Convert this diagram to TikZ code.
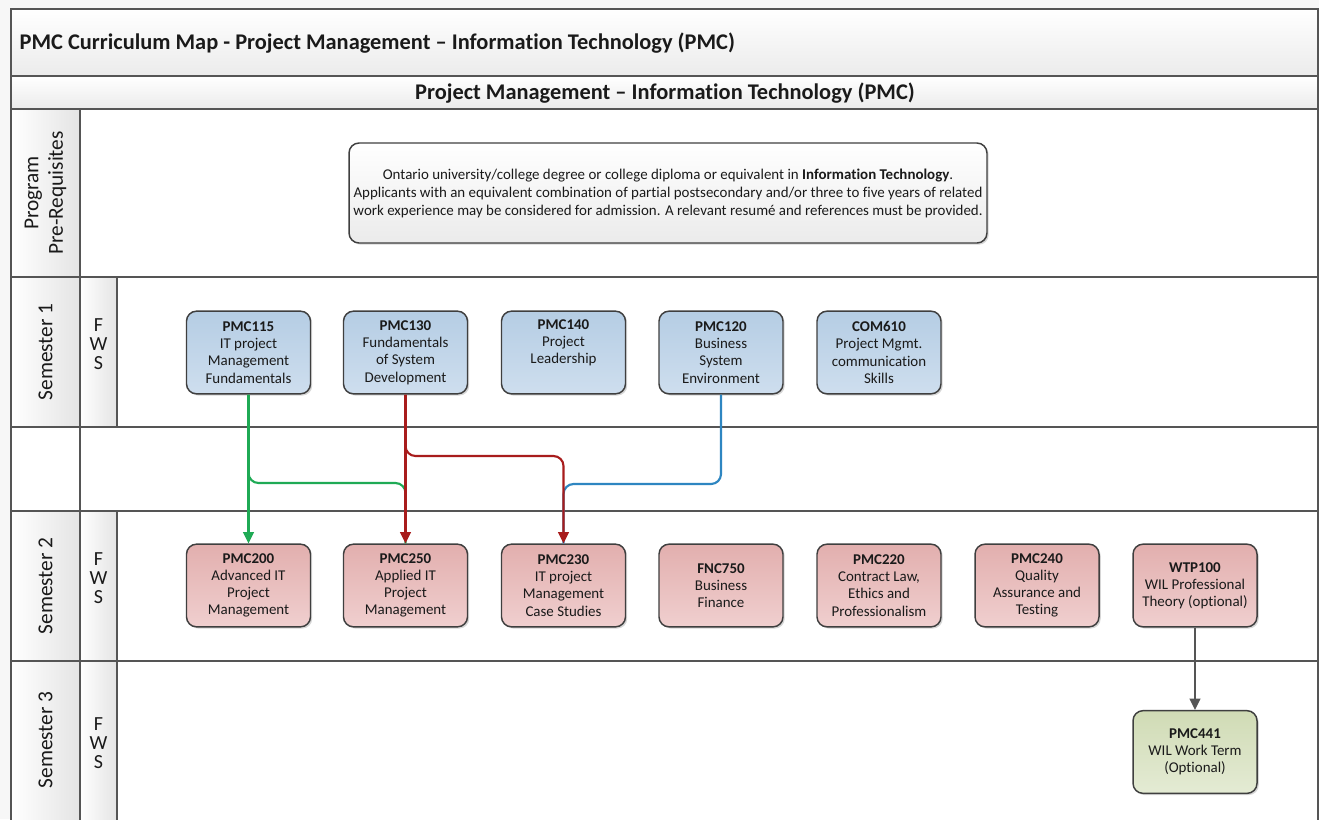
\documentclass[tikz,border=0pt]{standalone}
\usepackage{fontspec}
\setmainfont{Carlito}[Ligatures=NoCommon]
\usetikzlibrary{arrows.meta,shadows}
\definecolor{framec}{HTML}{555555}
\definecolor{nodeborder}{HTML}{3F3F3F}
\definecolor{btop}{HTML}{B5CDE4}
\definecolor{bbot}{HTML}{CEDEEE}
\definecolor{rtop}{HTML}{E2AFAE}
\definecolor{rbot}{HTML}{F0CFCF}
\definecolor{gtop}{HTML}{D0DBB5}
\definecolor{gbot}{HTML}{E4EBD4}
\definecolor{hdrbot}{HTML}{EBEBEB}
\definecolor{colbot}{HTML}{E4E4E4}
\definecolor{gline}{HTML}{1FAA55}
\definecolor{rline}{HTML}{A81C1C}
\definecolor{bline}{HTML}{2E86C1}
\definecolor{kline}{HTML}{555555}
\definecolor{txt}{HTML}{1A1A1A}
\begin{document}
\begin{tikzpicture}[x=0.75pt,y=-0.75pt,
  course/.style={draw=nodeborder, line width=1.1pt, rounded corners=7.5pt,
    minimum width=93pt, minimum height=62pt, align=center, inner sep=2pt,
    text=txt, font=\fontsize{11.2}{12.9}\selectfont,
    drop shadow={shadow xshift=1.3pt, shadow yshift=-1.3pt, fill=black!35, opacity=0.45}},
  sem1box/.style={course, top color=btop, bottom color=bbot},
  sem2box/.style={course, top color=rtop, bottom color=rbot},
  sem3box/.style={course, top color=gtop, bottom color=gbot},
  conn/.style={line width=1.6pt, rounded corners=7.5pt},
  tip/.style={-{Triangle[width=8pt,length=8.5pt]}},
  gridline/.style={draw=framec, line width=1.3pt},
  thickline/.style={draw=framec, line width=2.2pt},
  rowlabel/.style={rotate=90, align=center, text=txt, font=\fontsize{16}{18.5}\selectfont},
  fws/.style={align=center, text=txt, font=\fontsize{15}{14}\selectfont},
  hdr/.style={text=txt, font=\bfseries\fontsize{16.8}{19}\selectfont}
]
\useasboundingbox (0,0) rectangle (1319,819);
\fill[white] (0,0) rectangle (1319,819);
\fill[black!3] (0,0) rectangle (1319,9);
\fill[black!3] (0,0) rectangle (11,819);
% header bars
\shade[top color=white, bottom color=hdrbot] (11,9) rectangle (1318,76);
\shade[top color=white, bottom color=hdrbot] (11,76) rectangle (1318,109);
% label columns
\shade[left color=white, right color=colbot] (11,109) rectangle (80,277);
\shade[left color=white, right color=colbot] (11,277) rectangle (80,427);
\shade[left color=white, right color=colbot] (11,511) rectangle (80,661);
\shade[left color=white, right color=colbot] (11,661) rectangle (80,830);
\shade[left color=white, right color=colbot] (80,277) rectangle (117,427);
\shade[left color=white, right color=colbot] (80,511) rectangle (117,661);
\shade[left color=white, right color=colbot] (80,661) rectangle (117,830);
% grid
\draw[gridline] (11,830) -- (11,9) -- (1318,9) -- (1318,830);
\draw[gridline] (11,76) -- (1318,76);
\draw[gridline] (11,109) -- (1318,109);
\draw[gridline] (11,277) -- (1318,277);
\draw[gridline] (11,427) -- (1318,427);
\draw[gridline] (11,511) -- (1318,511);
\draw[gridline] (11,661) -- (1318,661);
\draw[thickline] (80,109) -- (80,830);
\draw[gridline] (117,277) -- (117,427);
\draw[gridline] (117,511) -- (117,830);
% headers
\node[hdr, anchor=west] (title) at (15,43) {PMC Curriculum Map - Project Management – Information Technology (PMC)};
\node[hdr] (subtitle) at (665,93) {Project Management – Information Technology (PMC)};
% row labels
\node[rowlabel] (lpre) at (45.5,193) {Program\\Pre-Requisites};
\node[rowlabel] (ls1) at (45.5,352) {Semester 1};
\node[rowlabel] (ls2) at (45.5,586) {Semester 2};
\node[rowlabel] (ls3) at (45.5,740) {Semester 3};
\node[fws] (f1) at (98.5,344) {F\\W\\S};
\node[fws] (f2) at (98.5,578) {F\\W\\S};
\node[fws] (f3) at (98.5,743) {F\\W\\S};
% prerequisites
\node[draw=nodeborder, line width=1.1pt, rounded corners=7.5pt, top color=white, bottom color=hdrbot,
  minimum width=477pt, minimum height=75pt, align=center, text=txt,
  font=\fontsize{11.2}{13.5}\selectfont,
  drop shadow={shadow xshift=1.3pt, shadow yshift=-1.3pt, fill=black!35, opacity=0.45}] (pre) at (668,193)
  {Ontario university/college degree or college diploma or equivalent in \textbf{Information Technology}.\\
   Applicants with an equivalent combination of partial postsecondary and/or three to five years of related\\
   work experience may be considered for admission. A relevant resumé and references must be provided.};
% semester 1
\node[sem1box] (p115) at (248.5,352.5) {\textbf{PMC115}\\IT project\\Management\\Fundamentals};
\node[sem1box] (p130) at (405.5,352.5) {\textbf{PMC130}\\Fundamentals\\of System\\Development};
\node[sem1box] (p140) at (563.5,352.5) {\textbf{PMC140}\\Project\\Leadership\\\strut};
\node[sem1box] (p120) at (721,352.5) {\textbf{PMC120}\\Business\\System\\Environment};
\node[sem1box] (c610) at (879,352.5) {\textbf{COM610}\\Project Mgmt.\\communication\\Skills};
% semester 2
\node[sem2box] (p200) at (248.5,585.5) {\textbf{PMC200}\\Advanced IT\\Project\\Management};
\node[sem2box] (p250) at (405.5,585.5) {\textbf{PMC250}\\Applied IT\\Project\\Management};
\node[sem2box] (p230) at (563.5,585.5) {\textbf{PMC230}\\IT project\\Management\\Case Studies};
\node[sem2box] (f750) at (721,585.5) {\textbf{FNC750}\\Business\\Finance};
\node[sem2box] (p220) at (879,585.5) {\textbf{PMC220}\\Contract Law,\\Ethics and\\Professionalism};
\node[sem2box] (p240) at (1037,585.5) {\textbf{PMC240}\\Quality\\Assurance and\\Testing};
\node[sem2box] (w100) at (1195,585.5) {\textbf{WTP100}\\WIL Professional\\Theory (optional)};
% semester 3
\node[sem3box] (p441) at (1195,752) {\textbf{PMC441}\\WIL Work Term\\(Optional)};
% junction coordinates
\coordinate (gj) at (330,483);
\coordinate (rj) at (480,456);
\coordinate (bj) at (640,484);
% connectors
\draw[conn, draw=gline] (p115.south) |- (gj) -| (p250.north);
\draw[conn, draw=bline] (p120.south) |- (bj) -| (p230.north);
\draw[conn, tip, draw=gline] (p115.south) -- (p200.north);
\draw[conn, tip, draw=rline] (p130.south) -- (p250.north);
\draw[conn, tip, draw=rline] (p130.south) |- (rj) -| (p230.north);
\draw[conn, tip, draw=kline] (w100.south) -- (p441.north);
\end{tikzpicture}
\end{document}
